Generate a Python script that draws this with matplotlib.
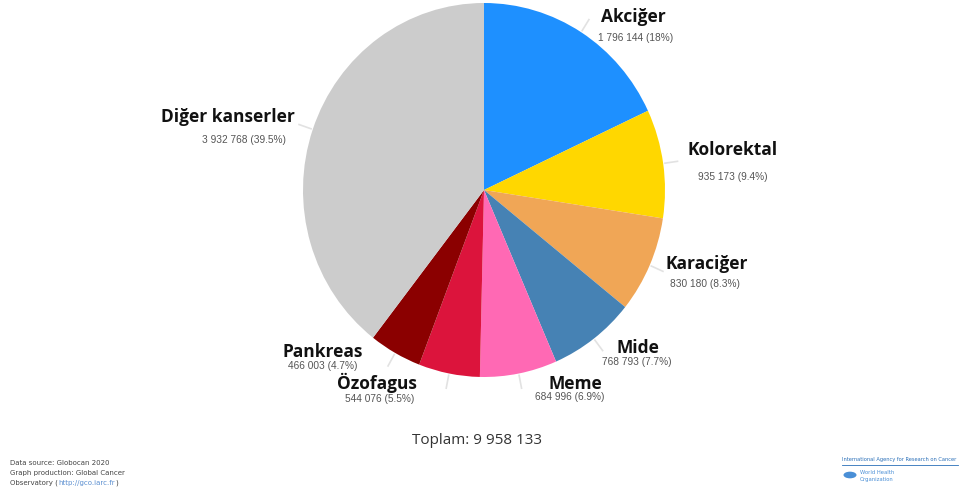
import numpy as np
from matplotlib import pyplot as plt
from matplotlib.patches import Circle

# Globocan 2020 cancer deaths by site
sites = ['Akciğer', 'Kolorektal', 'Karaciğer', 'Mide', 'Meme', 'Özofagus', 'Pankreas', 'Diğer kanserler']
deaths = [1796144, 935173, 830180, 768793, 684996, 544076, 466003, 3932768]
shares = ['18%', '9.4%', '8.3%', '7.7%', '6.9%', '5.5%', '4.7%', '39.5%']
colors = ['#1e90ff', '#ffd700', '#f0a656', '#4682b4', '#ff69b4', '#dc143c', '#8b0000', '#cccccc']
total_label = 'Toplam: 9 958 133'

# label anchor (px from top-left): name centre, value centre
label_pos = {
    'Akciğer': ((633, 17), (636, 38)),
    'Kolorektal': ((733, 150), (733, 177)),
    'Karaciğer': ((707, 264), (705, 284)),
    'Mide': ((638, 348), (637, 362)),
    'Meme': ((575, 384), (570, 397)),
    'Özofagus': ((377, 383), (380, 399)),
    'Pankreas': ((323, 352), (323, 366)),
    'Diğer kanserler': ((228, 117), (244, 140)),
}

W, H = 960, 492
fig = plt.figure(figsize=(W / 100, H / 100), dpi=100)
fig.patch.set_facecolor('white')

cx, cy, rx, ry = 484, 190, 181, 187
ax = fig.add_axes([(cx - rx) / W, 1 - (cy + ry) / H, 2 * rx / W, 2 * ry / H])
wedges, _ = ax.pie(deaths, colors=colors, startangle=90, counterclock=False,
                   wedgeprops=dict(linewidth=0))
ax.set_xlim(-1, 1)
ax.set_ylim(-1, 1)
ax.set_aspect('auto')
ax.axis('off')

# short leader lines
for w in wedges:
    ang = np.deg2rad((w.theta1 + w.theta2) / 2)
    x0, y0 = np.cos(ang), np.sin(ang)
    ax.plot([1.01 * x0, 1.08 * x0], [1.01 * y0, 1.08 * y0], color='#e2e2e2',
            lw=1.2, clip_on=False)


def px(x, y):
    return x / W, 1 - y / H


for site, n, pct in zip(sites, deaths, shares):
    (nx, ny), (vx, vy) = label_pos[site]
    fig.text(*px(nx, ny), site, ha='center', va='center', fontsize=12.5,
             fontweight='bold', family='Open Sans', color='#111111')
    value = f'{n:,}'.replace(',', ' ')
    fig.text(*px(vx, vy), f'{value} ({pct})', ha='center', va='center',
             fontsize=7.3, family='Liberation Sans', color='#555555')

fig.text(*px(477, 441), total_label, ha='center', va='center', fontsize=11,
         family='Open Sans', color='#333333')

# footer
fig.text(*px(10, 463), 'Data source: Globocan 2020', ha='left', va='center',
         fontsize=5, color='#444444')
fig.text(*px(10, 473), 'Graph production: Global Cancer', ha='left', va='center',
         fontsize=5, color='#444444')

renderer = fig.canvas.get_renderer()
x = 10
for part, col in [('Observatory (', '#444444'), ('http://gco.iarc.fr', '#5b8fd0'), (')', '#444444')]:
    t = fig.text(*px(x, 483), part, ha='left', va='center', fontsize=5, color=col)
    x += t.get_window_extent(renderer).width + 0.5

fig.text(*px(842, 460), 'International Agency for Research on Cancer', ha='left',
         va='center', fontsize=3.7, color='#2a6fb8')
fig.add_artist(plt.Line2D([842 / W, 958 / W], [1 - 465 / H, 1 - 465 / H],
                          color='#2a6fb8', lw=0.6))
fig.add_artist(Circle(px(850, 475), 6.5 / W, transform=fig.transFigure,
                      facecolor='#4a8fd6', edgecolor='none'))
fig.text(*px(860, 472), 'World Health', ha='left', va='center', fontsize=3.8, color='#4a8fd6')
fig.text(*px(860, 479), 'Organization', ha='left', va='center', fontsize=3.8, color='#4a8fd6')

fig.savefig('out.png', dpi=100)
